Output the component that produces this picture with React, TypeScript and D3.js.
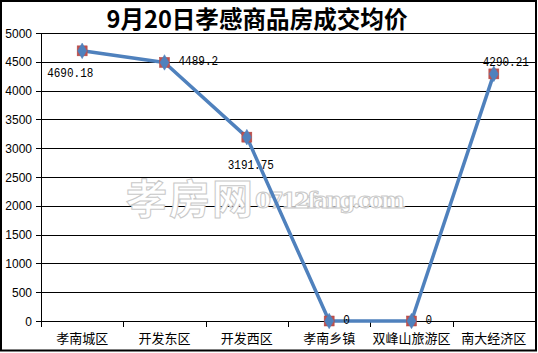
import React from "react";
import * as d3 from "d3";

const categories = ["孝南城区", "开发东区", "开发西区", "孝南乡镇", "双峰山旅游区", "南大经济区"];
const values = [4690.18, 4489.2, 3191.75, 0, 0, 4290.21];
const valueLabels = ["4690.18", "4489.2", "3191.75", "0", "0", "4290.21"];
const yTicks = [0, 500, 1000, 1500, 2000, 2500, 3000, 3500, 4000, 4500, 5000];
const labelPlacement = ["belowLeft", "right", "below", "right", "right", "above"];
const title = "9月20日孝感商品房成交均价";

const W = 538, H = 353;
const plot = { left: 41, right: 535, top: 33, bottom: 321 };

export default function App() {
  const x = d3.scaleBand<string>().domain(categories).range([plot.left, plot.right]).padding(0);
  const y = d3.scaleLinear().domain([0, 5000]).range([plot.bottom, plot.top]);
  const cx = (i: number) => (x(categories[i]) as number) + x.bandwidth() / 2;
  const line = d3.line<number>().x((_, i) => cx(i)).y((d) => y(d));
  const monoFont = "'Liberation Mono', 'DejaVu Sans Mono', monospace";
  const sansFont = "'Liberation Sans', 'Noto Sans CJK SC', sans-serif";
  const cjkFont = "'Noto Sans CJK SC', sans-serif";

  const labelPos = (i: number) => {
    const px = cx(i), py = y(values[i]);
    switch (labelPlacement[i]) {
      case "belowLeft": return { x: px - 35, y: py + 26, anchor: "start" };
      case "right": return { x: px + 14, y: py + 3, anchor: "start" };
      case "below": return { x: px + 4, y: py + 32, anchor: "middle" };
      case "above": return { x: px + 12, y: py - 8, anchor: "middle" };
      default: return { x: px, y: py, anchor: "middle" };
    }
  };

  return (
    <svg width={W} height={H} style={{ position: "fixed", left: 0, top: 0, background: "#fff" }}
      xmlns="http://www.w3.org/2000/svg">
      <rect x={0} y={0} width={W} height={H} fill="#fff" />
      {/* gridlines */}
      {yTicks.map((t) => (
        <line key={t} x1={plot.left} x2={plot.right} y1={Math.round(y(t)) + 0.5} y2={Math.round(y(t)) + 0.5}
          stroke="#000" strokeWidth={1} />
      ))}
      {/* y tick marks & labels */}
      {yTicks.map((t) => (
        <g key={"yl" + t}>
          <line x1={36} x2={plot.left} y1={Math.round(y(t)) + 0.5} y2={Math.round(y(t)) + 0.5} stroke="#000" />
          <text x={32} y={y(t) + 4.5} textAnchor="end" fontSize={12} fontFamily={sansFont} fill="#000">{t}</text>
        </g>
      ))}
      {/* watermark */}
      <g fill="#fff" stroke="#c8c8c8" strokeWidth={1}>
        <text x={126} y={214} fontSize={41} fontFamily={cjkFont} fontWeight={700} textLength={127}>孝房网</text>
        <text x={255} y={208} fontSize={23} fontFamily="'DejaVu Serif', serif" fontWeight={700} textLength={150}>0712fang.com</text>
      </g>
      {/* axes */}
      <line x1={plot.left + 0.5} x2={plot.left + 0.5} y1={plot.top} y2={plot.bottom + 5} stroke="#000" />
      <line x1={plot.left} x2={plot.right} y1={Math.round(y(0)) + 0.5} y2={Math.round(y(0)) + 0.5} stroke="#000" />
      {categories.map((c, i) => {
        const bx = Math.round(x(c) as number) + 0.5;
        return (
          <g key={c}>
            <line x1={bx} x2={bx} y1={plot.bottom} y2={plot.bottom + 6} stroke="#000" />
            <text x={cx(i)} y={343} textAnchor="middle" fontSize={13} fontFamily={cjkFont} fill="#000">{c}</text>
          </g>
        );
      })}
      {/* series */}
      <path d={line(values) as string} fill="none" stroke="#4f81bd" strokeWidth={3.5} strokeLinejoin="round" />
      {values.map((v, i) => (
        <g key={"m" + i}>
          <rect x={cx(i) - 5} y={y(v) - 5} width={10} height={10} fill="#c0504d" stroke="#b04642" strokeWidth={0.5} />
          <path d={d3.symbol().type(d3.symbolDiamond).size(70)() as string}
            transform={`translate(${cx(i)},${y(v)})`} fill="#4f81bd" stroke="#4f81bd" strokeWidth={0.5} />
        </g>
      ))}
      {values.map((v, i) => {
        const p = labelPos(i);
        return (
          <text key={"l" + i} x={p.x} y={p.y} textAnchor={p.anchor as any} fontSize={12} fontFamily={monoFont} fill="#000"
            textLength={valueLabels[i].length * 6.6} lengthAdjust="spacingAndGlyphs">
            {valueLabels[i]}
          </text>
        );
      })}
      {/* title */}
      <text x={257} y={28} textAnchor="middle" fontSize={24} fontWeight={600} fontFamily={cjkFont} fill="#000"
        textLength={301} lengthAdjust="spacingAndGlyphs">{title}</text>
      {/* outer border */}
      <rect x={1} y={1} width={W - 3} height={H - 3.5} fill="none" stroke="#000" strokeWidth={2} />
    </svg>
  );
}
